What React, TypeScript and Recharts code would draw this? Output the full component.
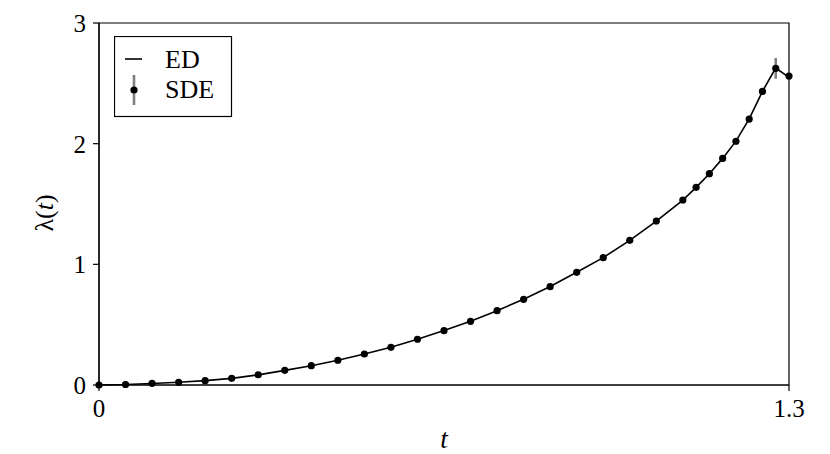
import {
  ComposedChart,
  Line,
  Scatter,
  ErrorBar,
  XAxis,
  YAxis,
  ReferenceArea,
} from 'recharts'

const tValues = [
  0, 0.05, 0.1, 0.15, 0.2, 0.25, 0.3, 0.35, 0.4, 0.45, 0.5, 0.55, 0.6, 0.65, 0.7, 0.75,
  0.8, 0.85, 0.9, 0.95, 1.0, 1.05, 1.1, 1.125, 1.15, 1.175, 1.2, 1.225, 1.25, 1.275, 1.3,
]
const edValues = [
  0, 0.004, 0.013, 0.023, 0.036, 0.055, 0.084, 0.121, 0.16, 0.205, 0.257, 0.313, 0.379,
  0.451, 0.529, 0.616, 0.711, 0.816, 0.934, 1.056, 1.199, 1.358, 1.532, 1.638, 1.751,
  1.878, 2.021, 2.205, 2.433, 2.627, 2.55,
]
const sdeValues = [
  0, 0.004, 0.014, 0.022, 0.036, 0.055, 0.085, 0.122, 0.16, 0.205, 0.257, 0.312, 0.379,
  0.45, 0.528, 0.616, 0.71, 0.815, 0.934, 1.055, 1.199, 1.359, 1.533, 1.638, 1.751,
  1.878, 2.02, 2.204, 2.433, 2.624, 2.56,
]
const sdeErrors = [
  0, 0.002, 0.003, 0.004, 0.005, 0.006, 0.007, 0.008, 0.009, 0.01, 0.01, 0.01, 0.012,
  0.012, 0.013, 0.014, 0.015, 0.016, 0.017, 0.018, 0.019, 0.02, 0.021, 0.022, 0.023,
  0.024, 0.025, 0.026, 0.027, 0.086, 0.03,
]
const xTicks = [0, 1.3]
const yTicks = [0, 1, 2, 3]

const FONT = '"Liberation Serif", "DejaVu Serif", serif'

const edData = tValues.map((t, i) => ({ t, ed: edValues[i] }))
const sdeData = tValues.map((t, i) => ({ t, sde: sdeValues[i], err: sdeErrors[i] }))

const Dot = (p: any) => <circle cx={p.cx} cy={p.cy} r={3.6} fill="#000" />

// legend drawn by hand, like matplotlib's framed box
const LegendBox = () => (
  <svg width={119} height={82} style={{ display: 'block' }}>
    <rect x={0.5} y={0.5} width={117} height={80} fill="#fff" stroke="#000" strokeWidth={1.2} />
    <line x1={11} x2={28} y1={23} y2={23} stroke="#000" strokeWidth={1.6} />
    <text x={51} y={32} fontFamily={FONT} fontSize={26} fill="#000">ED</text>
    <line x1={20} x2={20} y1={39} y2={69} stroke="#7f7f7f" strokeWidth={2.6} />
    <circle cx={20} cy={54} r={3.6} fill="#000" />
    <text x={51} y={62} fontFamily={FONT} fontSize={26} fill="#000">SDE</text>
  </svg>
)

const YLabel = () => (
  <text x={44} y={213} fontFamily={FONT} fontSize={26} fill="#000" textAnchor="middle"
    dominantBaseline="central" transform="rotate(-90 44 213)">
    λ(<tspan fontStyle="italic">t</tspan>)
  </text>
)

export default function App() {
  return (
    <div style={{ position: 'absolute', left: 0, top: 0, width: 830, height: 454, background: '#fff' }}>
      <ComposedChart
        width={830}
        height={454}
        margin={{ top: 23, right: 41, left: 39, bottom: 4 }}
      >
        <XAxis
          xAxisId="b"
          dataKey="t"
          type="number"
          domain={[0, 1.3]}
          ticks={xTicks}
          allowDuplicatedCategory={false}
          height={65}
          stroke="#000"
          strokeWidth={1.2}
          tickSize={6}
          tickMargin={8}
          tick={{ fontFamily: FONT, fontSize: 25, fill: '#000' }}
          label={{ value: 't', position: 'insideBottom', offset: 2, fontFamily: FONT, fontSize: 27, fontStyle: 'italic', fill: '#000' }}
        />
        <YAxis
          yAxisId="l"
          type="number"
          domain={[0, 3]}
          ticks={yTicks}
          width={60}
          stroke="#000"
          strokeWidth={1.2}
          tickSize={6}
          tickMargin={7}
          tick={{ fontFamily: FONT, fontSize: 25, fill: '#000' }}
          label={<YLabel />}
        />
        <ReferenceArea xAxisId="b" yAxisId="l" x1={0} x2={1.3} y1={0} y2={3} fill="none" stroke="#000" strokeWidth={1.2} />
        <Line
          xAxisId="b"
          yAxisId="l"
          data={edData}
          dataKey="ed"
          type="linear"
          stroke="#000"
          strokeWidth={1.6}
          dot={false}
          activeDot={false}
          isAnimationActive={false}
        />
        <Scatter
          xAxisId="b"
          yAxisId="l"
          data={sdeData}
          dataKey="sde"
          fill="#000"
          shape={Dot}
          isAnimationActive={false}
        >
          <ErrorBar dataKey="err" direction="y" width={0} stroke="#7f7f7f" strokeWidth={2.6} isAnimationActive={false} />
        </Scatter>
      </ComposedChart>
      <div style={{ position: 'absolute', left: 114, top: 36 }}>
        <LegendBox />
      </div>
    </div>
  )
}
